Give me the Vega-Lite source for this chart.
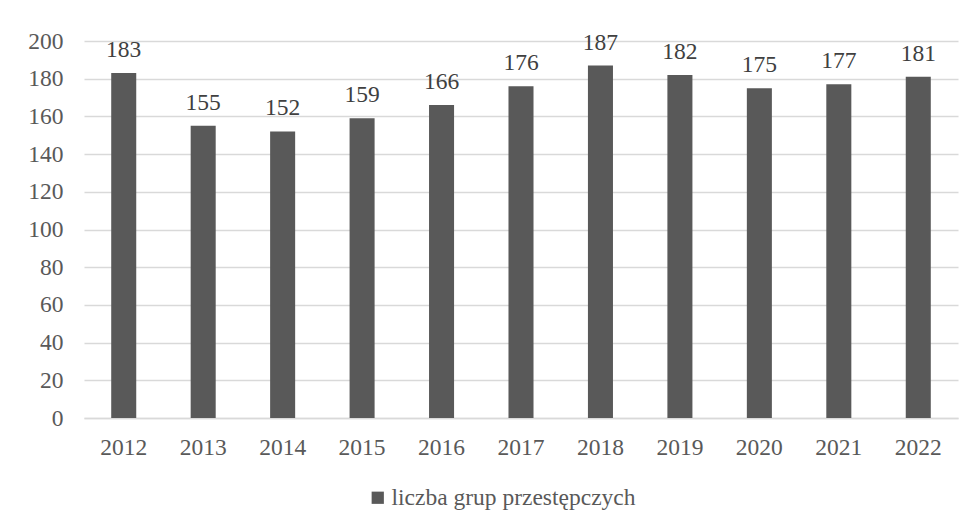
{
  "$schema": "https://vega.github.io/schema/vega-lite/v6.json",
  "width": 874,
  "height": 377,
  "autosize": {"type": "none"},
  "padding": {"left": 84, "top": 41, "right": 17, "bottom": 111},
  "background": "white",
  "config": {
    "view": {"stroke": null},
    "font": "Liberation Serif"
  },
  "data": {
    "values": [
      {"rok": "2012", "liczba": 183, "seria": "liczba grup przestępczych"},
      {"rok": "2013", "liczba": 155, "seria": "liczba grup przestępczych"},
      {"rok": "2014", "liczba": 152, "seria": "liczba grup przestępczych"},
      {"rok": "2015", "liczba": 159, "seria": "liczba grup przestępczych"},
      {"rok": "2016", "liczba": 166, "seria": "liczba grup przestępczych"},
      {"rok": "2017", "liczba": 176, "seria": "liczba grup przestępczych"},
      {"rok": "2018", "liczba": 187, "seria": "liczba grup przestępczych"},
      {"rok": "2019", "liczba": 182, "seria": "liczba grup przestępczych"},
      {"rok": "2020", "liczba": 175, "seria": "liczba grup przestępczych"},
      {"rok": "2021", "liczba": 177, "seria": "liczba grup przestępczych"},
      {"rok": "2022", "liczba": 181, "seria": "liczba grup przestępczych"}
    ]
  },
  "encoding": {
    "x": {
      "field": "rok",
      "type": "nominal",
      "scale": {"paddingInner": 0.685, "paddingOuter": 0.3425},
      "axis": {
        "title": null,
        "labelAngle": 0,
        "labelFont": "Liberation Serif",
        "labelFontSize": 23.5,
        "labelColor": "#595959",
        "labelPadding": 17,
        "ticks": false,
        "domainColor": "#d9d9d9",
        "domainWidth": 1.5
      }
    },
    "y": {
      "field": "liczba",
      "type": "quantitative",
      "scale": {"domain": [0, 200], "nice": false},
      "axis": {
        "title": null,
        "values": [0, 20, 40, 60, 80, 100, 120, 140, 160, 180, 200],
        "labelFont": "Liberation Serif",
        "labelFontSize": 23.5,
        "labelColor": "#595959",
        "labelPadding": 21,
        "ticks": false,
        "domain": false,
        "gridColor": "#d9d9d9",
        "gridWidth": 1.5
      }
    }
  },
  "layer": [
    {
      "mark": {"type": "bar"},
      "encoding": {
        "color": {
          "field": "seria",
          "type": "nominal",
          "scale": {"range": ["#595959"]},
          "legend": {
            "title": null,
            "orient": "none",
            "legendX": 282,
            "legendY": 445,
            "direction": "horizontal",
            "symbolType": "square",
            "symbolSize": 150,
            "symbolStrokeWidth": 0,
            "labelFont": "Liberation Serif",
            "labelFontSize": 23.5,
            "labelColor": "#595959",
            "labelLimit": 0,
            "labelOffset": 2
          }
        }
      }
    },
    {
      "mark": {"type": "text", "baseline": "alphabetic", "dy": -16, "font": "Liberation Serif", "fontSize": 23.5, "color": "#404040"},
      "encoding": {
        "text": {"field": "liczba", "type": "quantitative"}
      }
    }
  ]
}
